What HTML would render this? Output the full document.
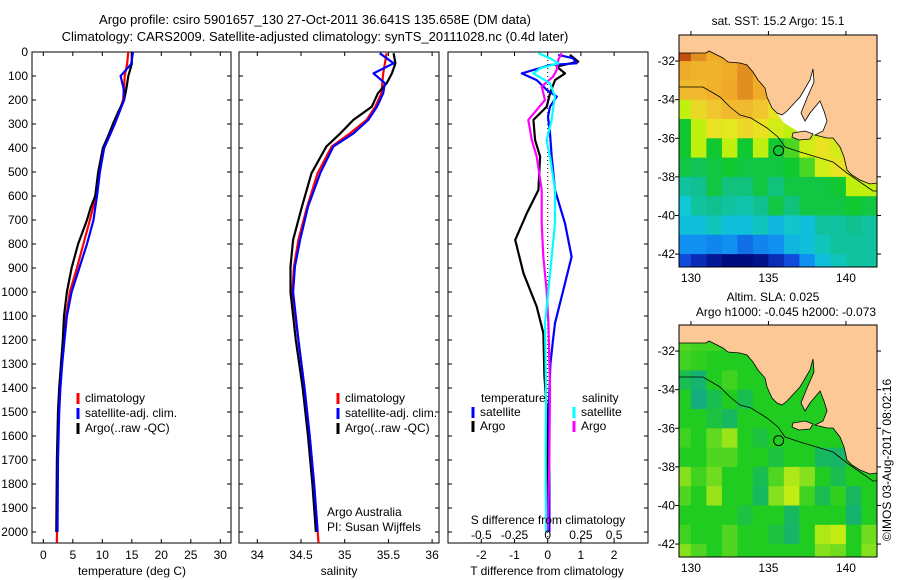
<!DOCTYPE html>
<html><head><meta charset="utf-8">
<style>
html,body{margin:0;padding:0;background:#fff}
svg{display:block;font-family:"Liberation Sans",sans-serif}
text{font-size:12px;fill:#000}
</style></head>
<body>
<svg id="fig" width="900" height="580" viewBox="0 0 900 580" xmlns="http://www.w3.org/2000/svg">
<defs>
<clipPath id="m1clip"><rect x="679" y="35" width="198" height="232"/></clipPath>
<clipPath id="m2clip"><rect x="679" y="325" width="198" height="232"/></clipPath>
</defs>
<text x="315" y="24" text-anchor="middle" style="font-size:13px">Argo profile: csiro 5901657_130 27-Oct-2011 36.641S 135.658E (DM data)</text>
<text x="315" y="41" text-anchor="middle" style="font-size:13px">Climatology: CARS2009. Satellite-adjusted climatology: synTS_20111028.nc (0.4d later)</text>
<g id="p1"></g>
<g id="p2"></g>
<g id="p3"></g>
<g id="m1"></g>
<g id="m2"></g>
<text transform="translate(891,460) rotate(-90)" text-anchor="middle">©IMOS 03-Aug-2017 08:02:16</text>
</svg>
<script>
// ---- data ----
const tDepth = [0,50,100,150,200,250,300,350,400,500,600,650,700,800,900,1000,1100,1200,1300,1400,1500,1700,2000];
const tDepthClim = [0,50,100,150,200,250,300,350,400,500,600,650,700,800,900,1000,1100,1200,1300,1400,1500,1700,2045];
const tArgo = [15.0,15.0,14.4,14.1,13.7,12.7,11.8,11.0,10.1,9.3,8.8,8.0,7.4,5.9,4.8,4.0,3.5,3.3,3.0,2.7,2.5,2.3,2.2];
const tClim = [14.4,14.2,13.8,13.7,13.5,12.9,12.1,11.2,10.3,9.5,8.9,8.4,7.9,6.8,5.7,4.5,3.9,3.4,3.1,2.8,2.6,2.4,2.3];
const tSat = [15.2,14.9,13.1,13.6,13.7,12.9,12.1,11.2,10.3,9.6,9.1,8.8,8.5,7.4,6.1,4.8,4.0,3.6,3.2,2.9,2.7,2.5,2.4];

const sDepth = [5,47,89,130,172,228,283,339,394,505,645,783,894,1000,1200,1400,1600,1800,2000];
const sDepthClim = [5,47,89,130,172,228,283,339,394,505,645,783,894,1000,1200,1400,1600,1800,2045];
const sArgo = [35.56,35.58,35.54,35.48,35.38,35.31,35.10,34.95,34.79,34.62,34.51,34.41,34.38,34.38,34.44,34.52,34.58,34.63,34.67];
const sClim = [35.48,35.46,35.44,35.43,35.42,35.35,35.25,35.06,34.85,34.69,34.57,34.47,34.42,34.40,34.47,34.54,34.60,34.65,34.70];
const sSat = [35.40,35.56,35.33,35.46,35.44,35.37,35.27,35.10,34.87,34.72,34.58,34.49,34.43,34.41,34.47,34.54,34.60,34.65,34.69];

const dDepthTsat = [12,26,47,54,89,117,158,186,228,269,339,436,575,714,853,992,1130,1200,1300,1500,1800,2000];
const dTsat = [0.32,0.76,0.87,0.07,-0.78,-0.33,-0.03,0.27,0.07,0.01,0.07,0.12,0.22,0.52,0.72,0.47,0.22,0.16,0.08,0.03,0.05,0.05];
const dDepthTargo = [12,40,61,89,117,172,228,283,367,436,575,672,783,922,1061,1172,1350,1500,2000];
const dTargo = [0.67,0.92,0.27,0.52,0.22,0.07,-0.03,-0.43,-0.38,-0.23,-0.28,-0.63,-0.98,-0.73,-0.33,-0.13,-0.1,-0.02,0.0];
const dDepthSargo = [5,33,75,103,144,200,283,367,436,575,714,853,992,1130,1400,1700,2000];
const dSargo = [0.105,0.08,0.068,0.04,-0.045,-0.02,-0.146,-0.12,-0.083,-0.045,-0.045,-0.033,-0.008,0.005,0.017,0.012,0.0];
const dDepthSsat = [5,26,47,68,89,130,186,228,283,367,436,575,714,853,992,1130,1400,1700,2000];
const dSsat = [-0.07,0.017,0.08,-0.058,-0.108,0.017,0.055,0.042,0.03,-0.008,0.017,0.055,0.055,0.03,0.005,-0.02,-0.013,-0.015,-0.013];

const depthTicks = [0,100,200,300,400,500,600,700,800,900,1000,1100,1200,1300,1400,1500,1600,1700,1800,1900,2000];
const tempTicks = [0,5,10,15,20,25,30];
const salTicks = [34,34.5,35,35.5,36];
const tdiffTicks = [-2,-1,0,1,2];
const sdiffTicks = [-0.5,-0.25,0,0.25,0.5];
const sdiffLabels = ["-0.5","-0.25","0","0.25","0.5"];
const lonTicks = [130,135,140];
const latTicks = [-32,-34,-36,-38,-40,-42];

const sstGrid = [
[19,18.5,18.5,18.5,18,18,18,18,18,18,18,18,18],
[19,18.5,18.2,18.2,18,18,17.8,17.5,17.5,17.5,17.5,17.5,17.5],
[18.2,18,18,18.2,18.5,18.2,18,17.5,17.5,17.5,17.5,17.5,17.5],
[17.8,17.8,18,18.3,18.5,18.2,17.8,17.5,17,17,17,17,17],
[16.2,17.2,17.5,17.8,17.8,17.5,17,16.5,16.2,16.5,16.5,16.5,16.5],
[15.6,16.2,17,16.8,17.2,17,16.5,16.2,16.2,16.5,16.8,16.5,16.5],
[15.6,16.2,15.6,16.2,15.6,16.2,15.6,15.8,16.5,17,16.5,16.2,16.2],
[15.5,15.4,15.5,15.6,15.5,15.5,15.5,15.6,15.8,16.5,17,16.5,16.2],
[15.0,15.1,15.5,15.2,15.2,15.5,15.2,15.5,15.5,15.5,15.6,16.2,16.2],
[14.6,15.0,15.1,15.0,14.9,15.1,15.5,15.2,15.5,15.5,15.5,15.6,15.5],
[14.5,14.5,14.8,14.5,14.5,14.8,14.4,14.7,14.5,15.0,15.0,15.1,15.0],
[14.0,14.0,13.9,14.0,13.7,13.9,14.0,14.4,14.5,14.8,15.0,15.0,15.0],
[13.4,13.0,12.7,12.5,12.5,12.6,13.0,13.4,14.0,14.5,14.8,15.0,15.0]
];
const slaGrid = [
[0,0,0,0,0,0,0,0,0,0,0,0,0],
[0.3,0.2,0.2,0,0,0,0,0,0,0,0,0,0],
[0.2,0.1,0,0,0,0,0,0,0,0,0,0,0],
[-0.3,-0.6,0,0.2,0,0,0,0,0,0,0,0,0],
[0,-0.8,-0.3,0,-0.3,0,0,0,0,0,0,0,0],
[0,0,-0.2,-0.4,0,0,0,0,0,0,0,0,0],
[0.2,0,0.4,0.7,0,-0.2,0,0,0,0,0,0,0],
[0,0,0.3,0.3,0,0,-0.2,0,0,-0.4,-0.5,0,0],
[0.6,0.2,0.5,0,0,-0.3,0.3,0.8,0.6,0,-0.3,0,0],
[0.3,0,0.7,0,0,-0.4,0.6,0.9,0.2,-0.3,0.1,-0.4,0],
[0,0,0,0,-0.2,0,0,-0.4,0,0,0,-0.6,0],
[0.2,0,0,0.3,0,0,-0.2,-0.5,0,0.8,0.9,0,0.5],
[0.6,0.3,0,0.3,0,0,0,0,0,0.6,0.5,0,0.6]
];
const argoLon = 135.658, argoLat = -36.641;

const NS = "http://www.w3.org/2000/svg";
function mk(parent, tag, attrs, txt){
  const e = document.createElementNS(NS, tag);
  for (const k in attrs) e.setAttribute(k, attrs[k]);
  if (txt !== undefined) e.textContent = txt;
  parent.appendChild(e);
  return e;
}
const TOP = 52, BOT = 543;
const yD = d => TOP + d * 0.24;
const xT = t => 43.3 + 5.9 * t;
const xS = s => 257.3 + 87.4 * (s - 34);
const xDT = t => 547.7 + 33.2 * t;
const xDS = s => 547.7 + 132.8 * s;

function frame(g, x0, x1, xticks, xf, leftLabels){
  const r = mk(g, "rect", {x:x0, y:TOP, width:x1-x0, height:BOT-TOP, fill:"none", stroke:"#000", "stroke-width":1});
  
  
  depthTicks.forEach(d => {
    mk(g, "line", {x1:x0, x2:x0+4, y1:yD(d), y2:yD(d), stroke:"#000"});
    mk(g, "line", {x1:x1, x2:x1-4, y1:yD(d), y2:yD(d), stroke:"#000"});
    if (leftLabels){
      const t = mk(g, "text", {x:28, y:yD(d)+4, "text-anchor":"end"}, String(d));
      
      
    }
  });
  xticks.forEach(v => {
    mk(g, "line", {x1:xf(v), x2:xf(v), y1:TOP, y2:TOP+4, stroke:"#000"});
    mk(g, "line", {x1:xf(v), x2:xf(v), y1:BOT, y2:BOT-4, stroke:"#000"});
  });
}
function series(g, depths, vals, xf, color, name){
  const pts = depths.map((d,i) => xf(vals[i]).toFixed(1) + "," + yD(d).toFixed(1)).join(" ");
  const p = mk(g, "polyline", {points:pts, fill:"none", stroke:color, "stroke-width":2.2, "stroke-linejoin":"round"});
  
  
}
function legendItem(g, x, y, color, label, name){
  mk(g, "line", {x1:x, x2:x, y1:y-9, y2:y+2, stroke:color, "stroke-width":3});
  const t = mk(g, "text", {x:x+7, y:y}, label);
  
  
}

const p1 = document.getElementById("p1");
frame(p1, 32, 231, tempTicks, xT, true);
tempTicks.forEach(v => mk(p1, "text", {x:xT(v), y:559, "text-anchor":"middle"}, String(v)));
mk(p1, "text", {x:132, y:575, "text-anchor":"middle"}, "temperature (deg C)");
series(p1, tDepthClim, tClim, xT, "#ff0000", "temp-climatology-line");
series(p1, tDepth, tArgo, xT, "#000000", "temp-argo-line");
series(p1, tDepth, tSat, xT, "#0000ff", "temp-satellite-line");
legendItem(p1, 78, 402, "#ff0000", "climatology", "legend-climatology");
legendItem(p1, 78, 417, "#0000ff", "satellite-adj. clim.", "legend-satellite");
legendItem(p1, 78, 432, "#000000", "Argo(..raw -QC)", "legend-argo");

const p2 = document.getElementById("p2");
frame(p2, 239, 439, salTicks, xS, false);
salTicks.forEach(v => mk(p2, "text", {x:xS(v), y:559, "text-anchor":"middle"}, String(v)));
mk(p2, "text", {x:339, y:575, "text-anchor":"middle"}, "salinity");
series(p2, sDepthClim, sClim, xS, "#ff0000", "sal-climatology-line");
series(p2, sDepth, sArgo, xS, "#000000", "sal-argo-line");
series(p2, sDepth, sSat, xS, "#0000ff", "sal-satellite-line");
legendItem(p2, 338, 402, "#ff0000", "climatology", "legend-climatology-2");
legendItem(p2, 338, 417, "#0000ff", "satellite-adj. clim.", "legend-satellite-2");
legendItem(p2, 338, 432, "#000000", "Argo(..raw -QC)", "legend-argo-2");
mk(p2, "text", {x:327, y:516}, "Argo Australia");
mk(p2, "text", {x:327, y:531}, "PI: Susan Wijffels");

const p3 = document.getElementById("p3");
frame(p3, 448, 648, tdiffTicks, xDT, false);
tdiffTicks.forEach(v => mk(p3, "text", {x:xDT(v), y:559, "text-anchor":"middle"}, String(v)));
mk(p3, "text", {x:547, y:575, "text-anchor":"middle"}, "T difference from climatology");
mk(p3, "line", {x1:xDT(0), x2:xDT(0), y1:TOP, y2:BOT, stroke:"#000", "stroke-dasharray":"1,3"});
series(p3, dDepthTargo, dTargo, xDT, "#000000", "tdiff-argo-line");
series(p3, dDepthTsat, dTsat, xDT, "#0000ff", "tdiff-satellite-line");
series(p3, dDepthSargo, dSargo, xDS, "#ff00ff", "sdiff-argo-line");
series(p3, dDepthSsat, dSsat, xDS, "#00ffff", "sdiff-satellite-line");
mk(p3, "text", {x:548, y:524, "text-anchor":"middle"}, "S difference from climatology");
sdiffTicks.forEach((v,i) => mk(p3, "text", {x:xDS(v), y:539, "text-anchor":"middle"}, sdiffLabels[i]));
mk(p3, "text", {x:481, y:402}, "temperature");
mk(p3, "text", {x:582, y:402}, "salinity");
legendItem(p3, 473, 416, "#0000ff", "satellite", "legend-tdiff-satellite");
legendItem(p3, 473, 430, "#000000", "Argo", "legend-tdiff-argo");
legendItem(p3, 574, 416, "#00ffff", "satellite", "legend-sdiff-satellite");
legendItem(p3, 574, 430, "#ff00ff", "Argo", "legend-sdiff-argo");

function lerpColor(stops, v){
  if (v <= stops[0][0]) return stops[0][1];
  for (let i=1;i<stops.length;i++){
    if (v <= stops[i][0]){
      const [a,ca]=stops[i-1], [b,cb]=stops[i];
      const f=(v-a)/(b-a);
      const pa=[1,3,5].map(k=>parseInt(ca.substr(k,2),16)), pb=[1,3,5].map(k=>parseInt(cb.substr(k,2),16));
      return "rgb("+pa.map((c,j)=>Math.round(c+(pb[j]-c)*f)).join(",")+")";
    }
  }
  return stops[stops.length-1][1];
}
const sstStops = [[12.5,"#000c80"],[13.3,"#1040d8"],[14.0,"#1090f0"],[14.6,"#10c8d8"],[15.1,"#10c090"],[15.6,"#10c830"],[16.2,"#c0f010"],[16.9,"#e8e820"],[17.6,"#f0c030"],[18.3,"#f0a828"],[19.0,"#c05010"]];
const slaStops = [[-1,"#10a890"],[-0.4,"#18b860"],[0,"#20cc20"],[0.5,"#70dc20"],[1,"#d8f010"]];

const landRel = [[0,18],[27,18],[30,16],[44,23],[49,27],[61,28],[68,30],[74,37],[79,45],[86,53],[88,62],[93,73],[98,78],[103,80],[108,76],[121,62],[131,45],[134,34],[135,47],[128,63],[122,78],[126,86],[131,78],[141,66],[145,76],[148,86],[144,96],[136,100],[148,103],[154,103],[161,112],[165,122],[168,135],[173,140],[181,145],[191,149],[198,148],[198,-1],[0,-1]];
const gulfRel = [[98,78],[108,76],[121,62],[131,45],[134,34],[135,47],[128,63],[122,78],[126,86],[131,78],[141,66],[145,76],[148,86],[144,96],[136,100],[120,97],[105,88]];
const kiRel = [[114,98],[126,96],[134,99],[131,104],[120,105],[113,102]];
const shelfRel = [[0,52],[24,52],[41,62],[51,72],[61,80],[72,83],[88,93],[99,102],[106,112],[121,117],[141,123],[154,127],[168,138],[181,147],[194,156],[198,156]];

function drawMap(g, x0, y0, grid, stops, clip, gulfFill, nm){
  const lonL=129.23, latT=-30.65;
  const X = lon => x0 + (lon-lonL)*15.5;
  const Y = lat => y0 + (latT-lat)*19.3;
  const cg = mk(g, "g", {"clip-path":"url(#"+clip+")"});
  grid.forEach((row,i) => row.forEach((v,j) => {
    const c = mk(cg, "rect", {x:X(129+j).toFixed(1), y:Y(-30-i).toFixed(1), width:15.9, height:19.7, fill:lerpColor(stops,v)});
    
    
  }));
  const P = arr => arr.map(p => (x0+p[0])+","+(y0+p[1])).join(" ");
  if (gulfFill) mk(cg, "polygon", {points:P(gulfRel), fill:gulfFill});
  const land = mk(cg, "polygon", {points:P(landRel), fill:"#fcc896", stroke:"#000", "stroke-width":0.8});
  
  
  mk(cg, "polygon", {points:P(kiRel), fill:"#fcc896", stroke:"#000", "stroke-width":0.8});
  mk(cg, "polyline", {points:P(shelfRel), fill:"none", stroke:"#000", "stroke-width":0.8});
  const c = mk(g, "circle", {cx:X(argoLon), cy:Y(argoLat), r:5, fill:"none", stroke:"#000", "stroke-width":1});
  
  
  mk(g, "rect", {x:x0, y:y0, width:198, height:232, fill:"none", stroke:"#000"});
  lonTicks.forEach(l => {
    mk(g, "line", {x1:X(l), x2:X(l), y1:y0, y2:y0-4, stroke:"#000"});
    mk(g, "text", {x:X(l), y:y0+247, "text-anchor":"middle"}, String(l));
  });
  latTicks.forEach(l => {
    mk(g, "line", {x1:x0, x2:x0-4, y1:Y(l), y2:Y(l), stroke:"#000"});
    mk(g, "line", {x1:x0+198, x2:x0+202, y1:Y(l), y2:Y(l), stroke:"#000"});
    mk(g, "text", {x:x0-4, y:Y(l)+4, "text-anchor":"end"}, String(l));
  });
}
const m1 = document.getElementById("m1");
drawMap(m1, 679, 35, sstGrid, sstStops, "m1clip", "#ffffff", "sst");
mk(m1, "text", {x:778, y:25, "text-anchor":"middle"}, "sat. SST: 15.2 Argo: 15.1");
const m2 = document.getElementById("m2");
drawMap(m2, 679, 325, slaGrid, slaStops, "m2clip", "#20cc20", "sla");
mk(m2, "text", {x:773, y:301, "text-anchor":"middle"}, "Altim. SLA: 0.025");
mk(m2, "text", {x:786, y:316, "text-anchor":"middle"}, "Argo h1000: -0.045 h2000: -0.073");
</script>
</body></html>
